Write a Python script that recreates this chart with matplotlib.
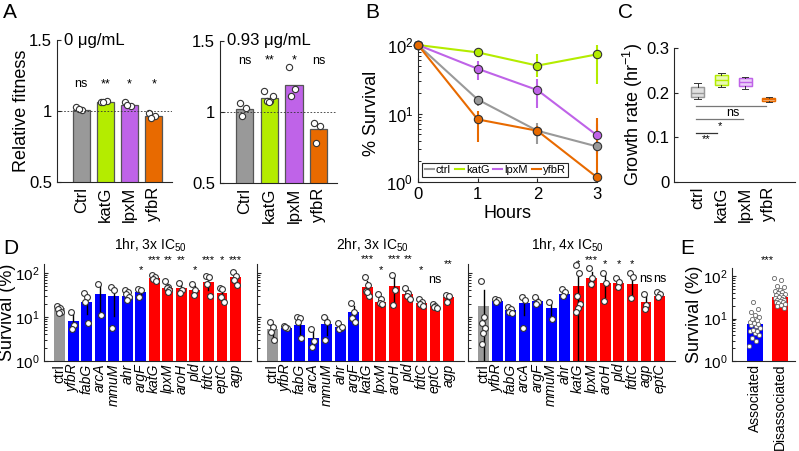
import matplotlib
matplotlib.use('Agg')
import matplotlib.pyplot as plt
import numpy as np

plt.rcParams['font.family'] = ['Liberation Sans', 'DejaVu Sans']
plt.rcParams['mathtext.fontset'] = 'custom'
plt.rcParams['mathtext.rm'] = 'Liberation Sans'
plt.rcParams['mathtext.it'] = 'Liberation Sans:italic'
plt.rcParams['axes.linewidth'] = 0.8
plt.rcParams['axes.edgecolor'] = '#262626'

# ---- panel A: relative fitness ----
a_names = ['Ctrl', 'katG', 'lpxM', 'yfbR']
a0_bar = [1.01, 1.06, 1.04, 0.965]
a0_pts = [[1.025, 1.005, 1.012], [1.06, 1.07, 1.065], [1.06, 1.035, 1.04], [0.985, 0.965, 0.95]]
a0_sig = ['ns', '**', '*', '*']
a93_bar = [1.02, 1.10, 1.19, 0.88]
a93_pts = [[1.06, 1.03, 0.97], [1.15, 1.08, 1.08, 1.11, 1.07], [1.32, 1.16, 1.11], [0.925, 0.90, 0.78]]
a93_sig = ['ns', '**', '*', 'ns']

# ---- panel B: survival over time ----
hours = [0, 1, 2, 3]
surv_ctrl = [100, 16, 5.6, 3.3]
surv_katG = [100, 78, 50, 73]
surv_lpxM = [100, 45, 22, 4.8]
surv_yfbR = [100, 8.2, 5.6, 1.17]
lo_ctrl = [100, 13, 3.6, 2.8]
hi_ctrl = [100, 18, 7.2, 3.9]
lo_katG = [100, 66, 34, 27]
hi_katG = [100, 89, 75, 100]
lo_lpxM = [100, 31, 12.2, 2.6]
hi_lpxM = [100, 58, 32, 7.1]
lo_yfbR = [100, 3.8, 4.8, 1.0]
hi_yfbR = [100, 11, 6.5, 8.7]

# ---- panel C: growth rate boxes ----
c_names = ['ctrl', 'katG', 'lpxM', 'yfbR']
c_med = [0.200, 0.228, 0.224, 0.185]
c_q1 = [0.190, 0.218, 0.215, 0.182]
c_q3 = [0.212, 0.240, 0.232, 0.189]
c_lo = [0.185, 0.212, 0.208, 0.180]
c_hi = [0.222, 0.243, 0.234, 0.190]

# ---- panel D: survival of knockouts ----
d1_genes = ['ctrl', 'yfbR', 'fabG', 'arcA', 'mmuM', 'ahr', 'argF', 'katG', 'lpxM', 'aroH', 'pld', 'fdtC', 'eptC', 'agp']
d1_bar = [16, 8.1, 22, 33, 29, 30, 37, 76, 46, 44, 41, 63, 34, 80]
d1_pts = [[18, 16, 15, 13, 12], [13, 6.5, 5.3], [35, 28, 22, 7.3], [56, 11], [48, 41, 5.6],
          [41, 37, 33, 28, 24], [42, 40, 28], [88, 80, 72, 66], [66, 48, 44, 41, 36],
          [59, 40, 35], [57, 40, 32], [85, 80, 56, 30], [44, 42, 28, 22], [105, 85, 70, 53]]
d1_sig = ['', '', '', '', '', '', '*', '***', '**', '**', '*', '***', '*', '***']
d1_sig_y = [0, 0, 0, 0, 0, 0, 117, 197, 197, 197, 117, 197, 197, 197]

d2_genes = d1_genes
d2_bar = [5.3, 5.6, 6.6, 3.3, 6.9, 5.9, 13, 48, 22, 50, 33, 21, 18, 28]
d2_pts = [[7.7, 6, 4.6, 3.0], [6.2, 5.6, 5.8], [10, 9.5, 7.7, 3.3], [5.3, 2.9, 2.1], [10, 7.7, 3.0],
          [7.3, 5.6, 5.4, 5.8], [21, 13, 9.5, 7.7], [81, 53, 38, 30, 36], [33, 25, 21, 20],
          [90, 41, 19], [45, 35, 30, 25], [25, 22, 20, 18], [20, 18, 17, 16], [32, 30, 22]]
d2_sig = ['', '', '', '', '', '', '', '***', '*', '***', '**', '*', 'ns', '**']
d2_sig_y = [0, 0, 0, 0, 0, 0, 0, 208, 117, 208, 208, 117, 69, 160]

d3_genes = ['ctrl', 'yfbR', 'fabG', 'arcA', 'argF', 'mmuM', 'ahr', 'katG', 'lpxM', 'aroH', 'pld', 'fdtC', 'agp', 'eptC']
d3_bar = [18, 23, 14, 21, 23, 16, 33, 51, 77, 59, 59, 57, 22, 30]
d3_pts = [[66, 10, 7.3, 5.6, 4.3, 2.4], [25, 24, 22], [17, 15, 13, 12], [28, 24, 5.6], [28, 22, 20],
          [22, 9], [43, 37, 30], [150, 100, 30, 20, 16, 13], [125, 75, 55], [100, 60, 23],
          [77, 62, 48], [100, 80, 27], [33, 19, 15], [37, 33, 28]]
d3_sig = ['', '', '', '', '', '', '', '*', '***', '*', '*', '*', 'ns', 'ns']
d3_sig_y = [0, 0, 0, 0, 0, 0, 0, 160, 197, 160, 160, 160, 73, 73]

# ---- panel E ----
e_names = ['Associated', 'Disassociated']
e_bar = [7.4, 32]
e_assoc = [2.2, 3, 3.5, 4, 4.5, 5, 5.2, 5.5, 6, 6.5, 7, 7.5, 8, 8.5, 9, 10, 11, 12, 14, 17, 24]
e_dis = [90, 80, 60, 55, 48, 45, 42, 40, 38, 36, 35, 33, 32, 30, 29, 28, 27, 26, 25, 24, 23, 22, 21, 20, 18]

col = {'ctrl': '#999999', 'katG': '#b4ec00', 'lpxM': '#bf63e8', 'yfbR': '#e86a00'}
d_cols = ['#999999'] + ['#0000ff'] * 6 + ['#ff0000'] * 7

W, H = 799, 451


def box(x0, y0, x1, y1):
    # pixel rectangle -> figure fraction
    return [x0 / W, 1 - y1 / H, (x1 - x0) / W, (y1 - y0) / H]


def jitter(n, w):
    if n == 1:
        return np.zeros(1)
    return ((np.arange(n) * 0.618) % 1 - 0.5) * w


def clean(ax):
    ax.spines['top'].set_visible(False)
    ax.spines['right'].set_visible(False)
    ax.tick_params(direction='in', length=3, width=0.8, colors='#262626', labelcolor='black')
    ax.tick_params(which='minor', direction='in', length=1.8, width=0.6)


fig = plt.figure(figsize=(7.99, 4.51), dpi=100)


def fitness_panel(rect, bars, pts, sig, sig_y, title, ylab):
    ax = fig.add_axes(rect)
    x = np.arange(1, 5)
    cols = [col['ctrl'], col['katG'], col['lpxM'], col['yfbR']]
    ax.bar(x, bars, width=0.7, color=cols, edgecolor='#555555', linewidth=0.9)
    for i, p in enumerate(pts):
        ax.plot(x[i] + jitter(len(p), 0.4), p, 'o', mfc='white', mec='#333333', ms=4.5, mew=0.8)
    ax.axhline(1, color='#333333', ls=(0, (2, 2)), lw=0.6)
    for i, s in enumerate(sig):
        ax.text(x[i], sig_y, s, ha='center', va='center', fontsize=9)
    ax.text(0.3, 1.5, title, ha='left', va='center', fontsize=12)
    ax.set_xlim(0, 4.75)
    ax.set_ylim(0.5, 1.5)
    ax.set_yticks([0.5, 1, 1.5])
    ax.set_yticklabels(['0.5', '1', '1.5'], fontsize=12)
    ax.set_xticks(x)
    ax.set_xticklabels(a_names, rotation=90, fontsize=12)
    clean(ax)
    ax.tick_params(axis='x', length=0)
    if ylab:
        ax.set_ylabel('Relative fitness', fontsize=13)
        ax.yaxis.set_label_coords(-0.235, 0.5)
    return ax


fitness_panel(box(57, 40, 172, 182), a0_bar, a0_pts, a0_sig, 1.19, '0 μg/mL', True)
fitness_panel(box(220, 41, 337, 183), a93_bar, a93_pts, a93_sig, 1.36, '0.93 μg/mL', False)

# ---- B ----
axb = fig.add_axes(box(418, 45, 597, 182))
for name, y, lo, hi in [('katG', surv_katG, lo_katG, hi_katG), ('lpxM', surv_lpxM, lo_lpxM, hi_lpxM),
                        ('ctrl', surv_ctrl, lo_ctrl, hi_ctrl), ('yfbR', surv_yfbR, lo_yfbR, hi_yfbR)]:
    y = np.array(y)
    err = [y - np.array(lo), np.array(hi) - y]
    axb.errorbar(hours, y, yerr=err, color=col[name], lw=1.5, elinewidth=1.5, capsize=0,
                 marker='o', ms=6, mfc=col[name], mec='#333333', mew=0.8, clip_on=False, zorder=3)
axb.set_yscale('log')
axb.set_ylim(1, 100)
axb.set_xlim(0, 3)
axb.set_xticks(hours)
axb.tick_params(labelsize=12)
clean(axb)
axb.set_xlabel('Hours', fontsize=13, labelpad=2)
axb.set_ylabel('% Survival', fontsize=13)
axb.yaxis.set_label_coords(-0.21, 0.5)
handles = [plt.Line2D([], [], color=col[n], lw=1.5) for n in ['ctrl', 'katG', 'lpxM', 'yfbR']]
leg = axb.legend(handles, ['ctrl', 'katG', 'lpxM', 'yfbR'], loc='lower left', bbox_to_anchor=(0.025, 0.035),
                 ncol=4, fontsize=8, handlelength=0.8, handletextpad=0.2, columnspacing=0.35,
                 borderpad=0.2, borderaxespad=0, fancybox=False, framealpha=1)
leg.get_frame().set_edgecolor('#262626')
leg.get_frame().set_linewidth(0.8)

# ---- C ----
axc = fig.add_axes(box(674, 48, 795, 182))
stats = []
for i in range(4):
    stats.append(dict(med=c_med[i], q1=c_q1[i], q3=c_q3[i], whislo=c_lo[i], whishi=c_hi[i], fliers=[]))
bp = axc.bxp(stats, positions=[1, 2, 3, 4], widths=0.55, patch_artist=True, showfliers=False)
for i, n in enumerate(c_names):
    bp['boxes'][i].set_facecolor(col[n])
    bp['boxes'][i].set_alpha(0.3)
    bp['boxes'][i].set_edgecolor(col[n])
    bp['medians'][i].set_color(col[n])
    for k in (2 * i, 2 * i + 1):
        bp['whiskers'][k].set_color('#333333')
        bp['whiskers'][k].set_linewidth(0.7)
        bp['caps'][k].set_color('#333333')
        bp['caps'][k].set_linewidth(0.7)
for i, n in enumerate(c_names):
    # outline on top of the translucent face
    axc.add_patch(plt.Rectangle((i + 1 - 0.275, c_q1[i]), 0.55, c_q3[i] - c_q1[i], fill=False,
                                edgecolor=col[n], lw=1.0))
axc.plot([0.92, 3.87], [0.170, 0.170], color='#777777', lw=0.9)
axc.plot([0.92, 2.9], [0.141, 0.141], color='#777777', lw=0.9)
axc.plot([0.92, 1.8], [0.110, 0.110], color='#333333', lw=0.9)
axc.text(2.48, 0.155, 'ns', ha='center', va='center', fontsize=9)
axc.text(1.93, 0.125, '*', ha='center', va='center', fontsize=8)
axc.text(1.34, 0.097, '**', ha='center', va='center', fontsize=8)
axc.set_xlim(0, 5.1)
axc.set_ylim(0, 0.3)
axc.set_yticks([0, 0.1, 0.2, 0.3])
axc.set_yticklabels(['0', '0.1', '0.2', '0.3'], fontsize=12)
axc.set_xticks([1, 2, 3, 4])
axc.set_xticklabels(c_names, rotation=90, fontsize=12)
clean(axc)
axc.tick_params(axis='x', length=0)
axc.set_ylabel('Growth rate (hr$^{-1}$)', fontsize=13)
axc.yaxis.set_label_coords(-0.24, 0.5)


# ---- D ----
def survival_panel(rect, genes, bars, pts, sig, sig_y, ylab):
    ax = fig.add_axes(rect)
    x = np.arange(len(genes))
    ax.bar(x, bars, width=0.8, color=d_cols, edgecolor='none')
    for i, p in enumerate(pts):
        p = np.array(p)
        sd = p.std()
        ax.plot([x[i], x[i]], [max(bars[i] - sd, 1.05), bars[i] + sd], color='black', lw=1.0, zorder=3)
        ax.plot(x[i] + jitter(len(p), 0.35), p, 'o', mfc='white', mec='#333333', ms=4.2, mew=0.8,
                zorder=4, clip_on=False)
    for i, s in enumerate(sig):
        if s:
            ax.text(x[i], sig_y[i], s, ha='center', va='center', fontsize=9 if s == 'ns' else 8)
    ax.set_yscale('log')
    ax.set_ylim(1, 158)
    ax.set_xlim(-1.15, 14.15)
    ax.set_yticks([1, 10, 100])
    ax.set_xticks(x)
    labs = ax.set_xticklabels(genes, rotation=90, fontsize=10)
    for t in labs:
        if t.get_text() != 'ctrl':
            t.set_style('italic')
    clean(ax)
    ax.tick_params(axis='x', length=0, pad=2)
    ax.tick_params(axis='y', labelsize=11, pad=3)
    if ylab:
        ax.set_ylabel('Survival (%)', fontsize=13)
        ax.yaxis.set_label_coords(-0.135, 0.5)
    else:
        ax.set_yticklabels([])
    return ax


survival_panel(box(44, 264, 251, 361), d1_genes, d1_bar, d1_pts, d1_sig, d1_sig_y, True)
survival_panel(box(257, 264, 464, 361), d2_genes, d2_bar, d2_pts, d2_sig, d2_sig_y, False)
survival_panel(box(468, 264, 675, 361), d3_genes, d3_bar, d3_pts, d3_sig, d3_sig_y, False)
fig.text(150 / W, 1 - 245 / H, '1hr, 3x IC$_{50}$', ha='center', va='center', fontsize=10)
fig.text(372 / W, 1 - 245 / H, '2hr, 3x IC$_{50}$', ha='center', va='center', fontsize=10)
fig.text(567 / W, 1 - 245 / H, '1hr, 4x IC$_{50}$', ha='center', va='center', fontsize=10)

# ---- E ----
axe = fig.add_axes(box(732, 268, 795, 361))
axe.bar([1, 2], e_bar, width=0.64, color=['#0000ff', '#ff0000'], edgecolor='none')
for i, p in enumerate([e_assoc, e_dis]):
    p = np.array(p)
    sem = p.std() / np.sqrt(len(p))
    axe.plot([i + 1, i + 1], [e_bar[i] - sem, e_bar[i] + sem], color='black', lw=1.0, zorder=3)
    axe.plot(i + 1 + jitter(len(p), 0.45), p, 'o', mfc='white', mec='#666666', ms=3, mew=0.6, zorder=4)
axe.text(1.5, 238, '***', ha='center', va='center', fontsize=8)
axe.set_yscale('log')
axe.set_ylim(1, 155)
axe.set_xlim(0.08, 2.6)
axe.set_yticks([1, 10, 100])
axe.set_xticks([1, 2])
axe.set_xticklabels(e_names, rotation=90, fontsize=10)
clean(axe)
axe.tick_params(axis='x', length=0, pad=2)
axe.tick_params(axis='y', labelsize=11, pad=3)
axe.set_ylabel('Survival (%)', fontsize=13)
axe.yaxis.set_label_coords(-0.46, 0.5)

# panel letters
for lab, px, py in [('A', 3, 12), ('B', 365, 12), ('C', 618, 12), ('D', 3, 248), ('E', 680, 248)]:
    fig.text(px / W, 1 - py / H, lab, fontsize=15, ha='left', va='center')

fig.savefig('out.png', dpi=100)
